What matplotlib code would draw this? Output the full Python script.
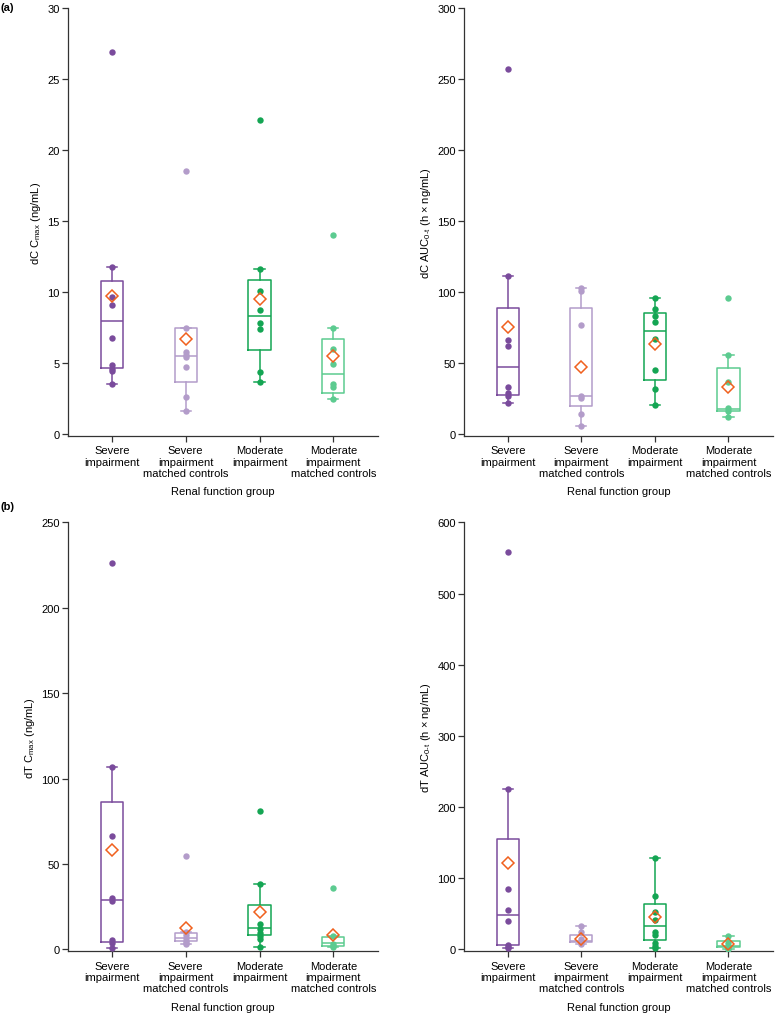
#! /bin/env python3

# Box plots of dC / dT exposure by renal function group, panels (a) and (b).

import matplotlib
matplotlib.use('Agg')
import matplotlib.pyplot as plt

plt.rcParams['font.family'] = ['Liberation Sans', 'DejaVu Sans']
plt.rcParams['mathtext.fontset'] = 'custom'
plt.rcParams['mathtext.rm'] = 'Liberation Sans'
plt.rcParams['mathtext.it'] = 'Liberation Sans:italic'

groups = ['Severe\nimpairment', 'Severe\nimpairment\nmatched controls',
          'Moderate\nimpairment', 'Moderate\nimpairment\nmatched controls']
colors = ['#7a4b9c', '#b39cca', '#14a553', '#5ccb90']
mean_color = '#f0601e'

# dC Cmax (ng/mL)
dc_cmax_pts = [[26.9, 11.75, 9.65, 9.1, 6.75, 4.85, 4.6, 4.45, 3.5],
               [18.55, 7.45, 5.75, 5.55, 5.4, 4.7, 2.6, 1.65],
               [22.1, 11.6, 10.1, 8.75, 7.8, 7.4, 4.35, 3.65],
               [14.05, 7.45, 6.0, 4.9, 3.55, 3.3, 2.45]]
dc_cmax_q1 = [4.66, 3.65, 5.9, 2.9]
dc_cmax_med = [7.96, 5.53, 8.28, 4.24]
dc_cmax_q3 = [10.78, 7.45, 10.88, 6.71]
dc_cmax_lo = [3.5, 1.65, 3.65, 2.45]
dc_cmax_hi = [11.75, 7.45, 11.6, 7.45]
dc_cmax_mean = [9.7, 6.71, 9.48, 5.53]

# dC AUC0-t (h x ng/mL)
dc_auc_pts = [[257, 111, 66, 62, 33, 29, 26.5, 22],
              [103, 100.5, 76.5, 27, 25.5, 14, 5.8],
              [95.5, 88.3, 83, 78.6, 67, 45.3, 31.5, 20.4],
              [96, 56, 36.4, 18.5, 16.2, 12]]
dc_auc_q1 = [27.2, 19.7, 38.3, 16.0]
dc_auc_med = [47.4, 26.5, 72.8, 17.8]
dc_auc_q3 = [88.5, 88.5, 85.4, 46.2]
dc_auc_lo = [22, 5.8, 20.4, 12]
dc_auc_hi = [111, 103, 95.5, 56]
dc_auc_mean = [75.6, 47.2, 63.6, 33.3]

# dT Cmax (ng/mL)
dt_cmax_pts = [[226, 107, 66.5, 29.9, 28.1, 5.3, 3.9, 0.6],
               [55, 10.5, 8.5, 6.5, 5, 4, 3.3],
               [81.3, 38.1, 14.7, 12.1, 9.8, 7.8, 5.9, 1.2],
               [36.2, 7.8, 3.2, 2.2, 1.2]]
dt_cmax_q1 = [4.3, 4.9, 8.3, 2.2]
dt_cmax_med = [28.9, 7.0, 12.8, 3.8]
dt_cmax_q3 = [86.6, 9.5, 26.3, 7.2]
dt_cmax_lo = [0.6, 3.3, 1.2, 1.2]
dt_cmax_hi = [107, 10.5, 38.1, 7.8]
dt_cmax_mean = [58.2, 12.5, 22.1, 8.5]

# dT AUC0-t (h x ng/mL)
dt_auc_pts = [[559, 226, 85.5, 56, 40, 6, 3, 1.4],
              [32.5, 25, 15, 11, 8],
              [129, 75.6, 53, 40.8, 24.9, 20.2, 9.4, 4.7, 1.4],
              [19.5, 9, 4.5, 2, 1]]
dt_auc_q1 = [5.6, 10.3, 12.7, 3.3]
dt_auc_med = [47.9, 11.5, 32.9, 5.0]
dt_auc_q3 = [155.4, 21.0, 64.3, 12.5]
dt_auc_lo = [1.4, 7.5, 1.4, 1.0]
dt_auc_hi = [226, 32.5, 129, 19.5]
dt_auc_mean = [122, 15.3, 45, 8]


def panel(ax, pts, q1, med, q3, lo, hi, means, ymax, ystep, ylabel):
    stats = []
    for i in range(4):
        stats.append({'q1': q1[i], 'med': med[i], 'q3': q3[i],
                      'whislo': lo[i], 'whishi': hi[i], 'fliers': []})
    bp = ax.bxp(stats, positions=range(4), widths=0.3, showfliers=False,
                patch_artist=False)
    for i in range(4):
        c = colors[i]
        bp['boxes'][i].set(color=c, linewidth=1.1)
        bp['medians'][i].set(color=c, linewidth=1.1)
        for w in bp['whiskers'][2 * i:2 * i + 2]:
            w.set(color=c, linewidth=1.1)
        for cp in bp['caps'][2 * i:2 * i + 2]:
            cp.set(color=c, linewidth=1.1)
            x0, x1 = cp.get_xdata()
            xm = (x0 + x1) / 2
            cp.set_xdata([xm - 0.07, xm + 0.07])
        ax.plot([i] * len(pts[i]), pts[i], 'o', color=c, markersize=4.6,
                markeredgewidth=0, zorder=3)
        ax.plot([i], [means[i]], 'D', markersize=6, fillstyle='none',
                color=mean_color, markeredgewidth=1.1, zorder=4)

    ax.set_xlim(-0.595, 3.605)
    ax.set_ylim(-ymax * 0.0042, ymax)
    ax.set_yticks(range(0, ymax + 1, ystep))
    ax.set_xticks(range(4))
    ax.set_xticklabels(groups, fontsize=8, linespacing=1.15)
    ax.tick_params(axis='y', labelsize=8, length=4, width=0.9, color='#333333', pad=2)
    ax.tick_params(axis='x', length=4, width=0.9, color='#333333', pad=3)
    for s in ['top', 'right']:
        ax.spines[s].set_visible(False)
    for s in ['left', 'bottom']:
        ax.spines[s].set_color('#333333')
        ax.spines[s].set_linewidth(0.9)
    ax.set_xlabel('Renal function group', fontsize=8, labelpad=6)
    ax.set_ylabel(ylabel, fontsize=8, labelpad=3)


fig = plt.figure(figsize=(7.75, 10.2), dpi=100)
ax1 = fig.add_axes([0.0877, 0.5718, 0.4, 0.4191])
ax2 = fig.add_axes([0.5987, 0.5718, 0.3987, 0.4191])
ax3 = fig.add_axes([0.0877, 0.0664, 0.4, 0.4204])
ax4 = fig.add_axes([0.5987, 0.0664, 0.3987, 0.4204])

panel(ax1, dc_cmax_pts, dc_cmax_q1, dc_cmax_med, dc_cmax_q3, dc_cmax_lo,
      dc_cmax_hi, dc_cmax_mean, 30, 5, r'dC C$_{\mathrm{max}}$ (ng/mL)')
panel(ax2, dc_auc_pts, dc_auc_q1, dc_auc_med, dc_auc_q3, dc_auc_lo,
      dc_auc_hi, dc_auc_mean, 300, 50, r'dC AUC$_{\mathrm{0\text{-}t}}$ (h × ng/mL)')
panel(ax3, dt_cmax_pts, dt_cmax_q1, dt_cmax_med, dt_cmax_q3, dt_cmax_lo,
      dt_cmax_hi, dt_cmax_mean, 250, 50, r'dT C$_{\mathrm{max}}$ (ng/mL)')
panel(ax4, dt_auc_pts, dt_auc_q1, dt_auc_med, dt_auc_q3, dt_auc_lo,
      dt_auc_hi, dt_auc_mean, 600, 100, r'dT AUC$_{\mathrm{0\text{-}t}}$ (h × ng/mL)')

fig.text(0.001, 0.9925, '(a)', fontsize=8, fontweight='bold', va='center')
fig.text(0.001, 0.503, '(b)', fontsize=8, fontweight='bold', va='center')

fig.savefig('out.png', dpi=100)
